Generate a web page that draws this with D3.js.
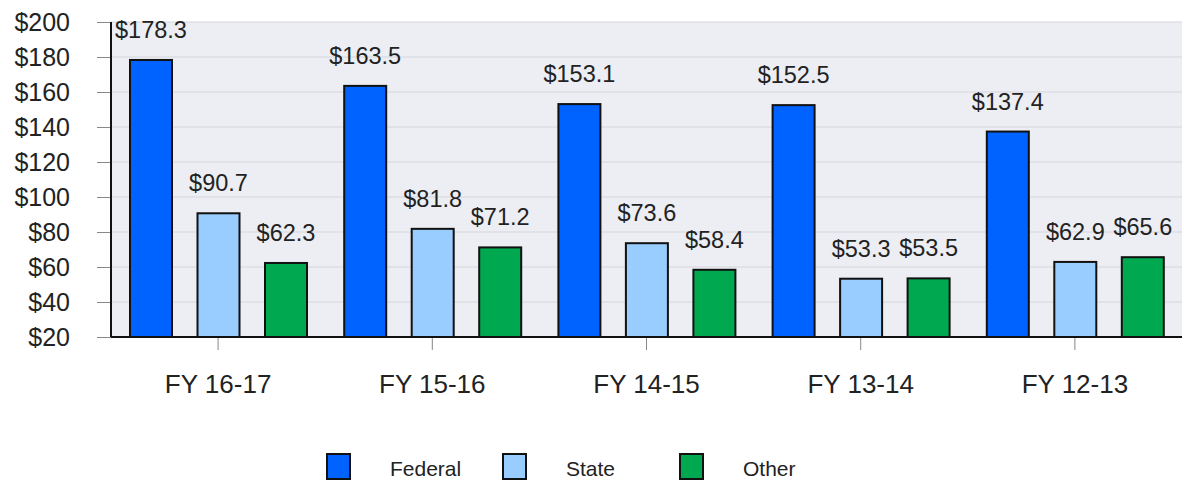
<!DOCTYPE html>
<html>
<head>
<meta charset="utf-8">
<script src="https://cdn.jsdelivr.net/npm/d3@7"></script>
<style>
    body { margin: 0; background: #fff; }
    svg { display: block; font-family: "Liberation Sans", Arial, sans-serif; }
</style>
</head>
<body>
<div id="chart"></div>
<script>
const years = ["FY 16-17", "FY 15-16", "FY 14-15", "FY 13-14", "FY 12-13"];
const federal = [178.3, 163.5, 153.1, 152.5, 137.4];
const state = [90.7, 81.8, 73.6, 53.3, 62.9];
const other = [62.3, 71.2, 58.4, 53.5, 65.6];
const seriesNames = ["Federal", "State", "Other"];
const seriesColors = ["#0062ff", "#99ccff", "#00a84f"];
const yTicks = [20, 40, 60, 80, 100, 120, 140, 160, 180, 200];

const W = 1184, H = 481;
const margin = {top: 22, right: 2, bottom: 144, left: 111};
const width = W - margin.left - margin.right;
const height = H - margin.top - margin.bottom;

const svg = d3.select("#chart").append("svg")
    .attr("width", W)
    .attr("height", H);

const g = svg.append("g")
    .attr("transform", `translate(${margin.left}, ${margin.top})`);

// scales
const x = d3.scaleBand().domain(years).range([0, width]);
const xs = d3.scalePoint().domain(seriesNames).range([40, 175]);
const y = d3.scaleLinear().domain([20, 200]).range([height, 0]);
const color = d3.scaleOrdinal().domain(seriesNames).range(seriesColors);
const barW = 42;

// plot background + grid
g.append("rect")
    .attr("width", width)
    .attr("height", height)
    .attr("fill", "#eceef3");

g.selectAll(".grid")
    .data(yTicks.slice(1))
    .enter().append("line")
    .attr("x1", 0).attr("x2", width)
    .attr("y1", d => y(d)).attr("y2", d => y(d))
    .attr("stroke", "#d4d6dc")
    .attr("stroke-width", 1);

// y axis
const yAxis = g.append("g")
    .call(d3.axisLeft(y).tickValues(yTicks).tickSize(14).tickPadding(27).tickFormat(d => "$" + d));
yAxis.select(".domain").remove();
yAxis.selectAll(".tick line").attr("stroke", "#888");
yAxis.selectAll("text").attr("font-size", 25).attr("fill", "#222").attr("font-family", "Liberation Sans, Arial, sans-serif");

// x axis
const xAxis = g.append("g")
    .attr("transform", `translate(0, ${height})`)
    .call(d3.axisBottom(x).tickSize(13).tickPadding(25));
xAxis.select(".domain").remove();
xAxis.selectAll(".tick line").attr("stroke", "#888");
xAxis.selectAll("text").attr("font-size", 26).attr("fill", "#222").attr("font-family", "Liberation Sans, Arial, sans-serif");

// bars
const rows = [];
years.forEach((yr, i) => {
    rows.push({year: yr, key: "Federal", value: federal[i]});
    rows.push({year: yr, key: "State", value: state[i]});
    rows.push({year: yr, key: "Other", value: other[i]});
});

g.selectAll(".bar")
    .data(rows)
    .enter().append("rect")
    .attr("class", "bar")
    .attr("x", d => x(d.year) + xs(d.key) - barW / 2)
    .attr("y", d => y(d.value))
    .attr("width", barW)
    .attr("height", d => y(20) - y(d.value))
    .attr("fill", d => color(d.key))
    .attr("stroke", "#111")
    .attr("stroke-width", 2);

g.selectAll(".label")
    .data(rows)
    .enter().append("text")
    .attr("class", "label")
    .attr("x", d => x(d.year) + xs(d.key))
    .attr("y", d => y(d.value) - 22)
    .attr("text-anchor", "middle")
    .attr("font-size", 23.5)
    .attr("fill", "#222")
    .text(d => "$" + d.value.toFixed(1));

// axis lines
g.append("line")
    .attr("x1", 0).attr("x2", width)
    .attr("y1", height).attr("y2", height)
    .attr("stroke", "#111").attr("stroke-width", 2);
g.append("line")
    .attr("x1", 0).attr("x2", 0)
    .attr("y1", 0).attr("y2", height)
    .attr("stroke", "#111").attr("stroke-width", 2);

// legend
const legendX = [327, 503, 680];
const legend = svg.append("g")
    .selectAll("g")
    .data(seriesNames)
    .enter().append("g")
    .attr("transform", (d, i) => `translate(${legendX[i]}, 454)`);

legend.append("rect")
    .attr("width", 23)
    .attr("height", 25)
    .attr("fill", d => color(d))
    .attr("stroke", "#111")
    .attr("stroke-width", 2);

legend.append("text")
    .attr("x", 63)
    .attr("y", 22)
    .attr("font-size", 21)
    .attr("fill", "#222")
    .text(d => d);
</script>
</body>
</html>
